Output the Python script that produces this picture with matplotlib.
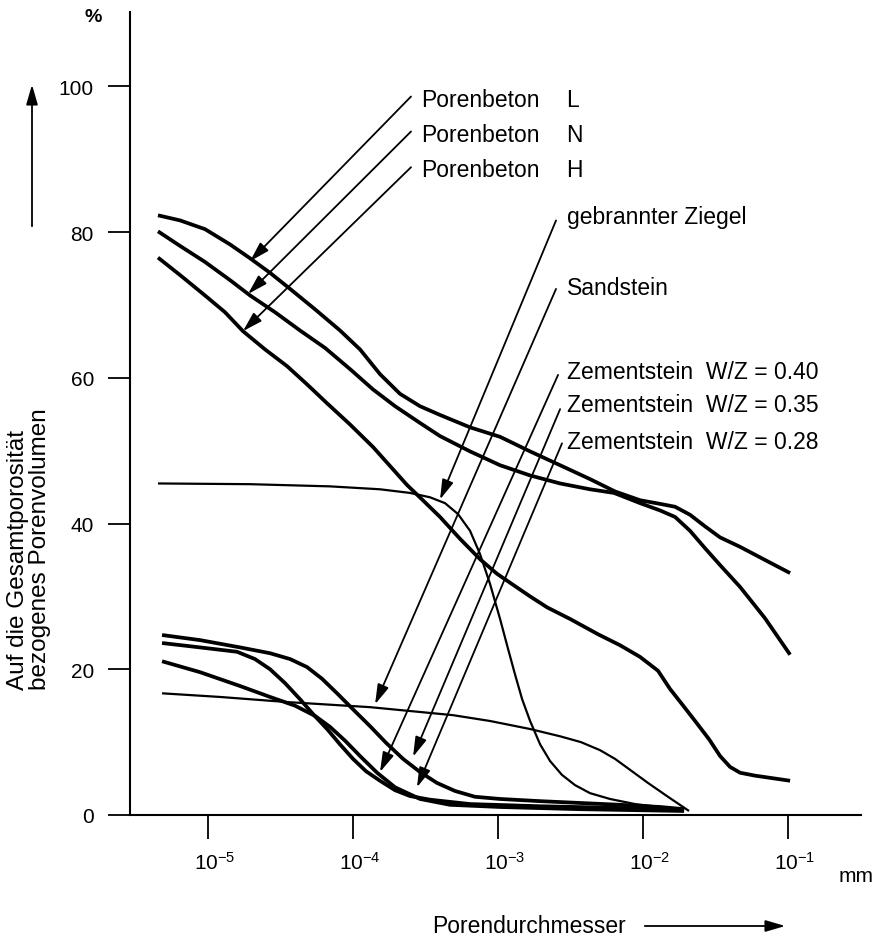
import matplotlib
matplotlib.use("Agg")
import matplotlib.pyplot as plt
import numpy as np
from matplotlib.transforms import ScaledTranslation

plt.rcParams['font.family'] = ['Liberation Sans', 'DejaVu Sans']
plt.rcParams['mathtext.fontset'] = 'custom'
plt.rcParams['mathtext.rm'] = 'Liberation Sans'

# ---- data: pore diameter as log10(mm), cumulative pore volume in % ----
pb_L_logd = [-5.345, -5.193, -5.021, -4.848, -4.710, -4.572, -4.434, -4.262, -4.090, -3.952,
             -3.814, -3.676, -3.538, -3.400, -3.193, -2.986, -2.779, -2.572, -2.366, -2.193,
             -2.021, -1.883, -1.779, -1.676, -1.572, -1.469, -1.331, -1.159, -0.986]
pb_L_pct = [82.3, 81.6, 80.4, 78.3, 76.4, 74.4, 72.2, 69.4, 66.5, 63.9,
            60.5, 57.8, 56.1, 54.9, 53.2, 51.9, 49.9, 48.0, 46.1, 44.4,
            43.2, 42.7, 42.3, 41.2, 39.6, 38.1, 36.8, 35.0, 33.2]

pb_N_logd = [-5.345, -5.193, -5.021, -4.848, -4.710, -4.538, -4.366, -4.193, -4.021, -3.862,
             -3.710, -3.538, -3.400, -3.193, -2.986, -2.779, -2.572, -2.366, -2.200, -2.021,
             -1.883, -1.779, -1.676, -1.572, -1.469, -1.331, -1.159, -0.986]
pb_N_pct = [80.1, 78.1, 75.9, 73.4, 71.3, 69.0, 66.5, 64.1, 61.2, 58.4,
            56.1, 53.8, 52.0, 49.9, 48.0, 46.6, 45.5, 44.7, 44.2, 42.8,
            41.8, 40.9, 39.0, 36.6, 34.3, 31.3, 27.0, 22.0]

pb_H_logd = [-5.345, -5.193, -5.021, -4.883, -4.759, -4.607, -4.455, -4.317, -4.179, -4.021,
             -3.862, -3.745, -3.628, -3.503, -3.400, -3.262, -3.124, -3.007, -2.897, -2.779,
             -2.662, -2.503, -2.310, -2.159, -2.021, -1.897, -1.814, -1.731, -1.641, -1.545,
             -1.469, -1.400, -1.331, -1.228, -1.124, -0.986]
pb_H_pct = [76.5, 74.1, 71.3, 69.0, 66.4, 63.9, 61.6, 59.1, 56.5, 53.6,
            50.5, 47.9, 45.3, 42.9, 40.9, 37.9, 35.1, 33.1, 31.6, 30.0,
            28.5, 26.9, 24.8, 23.3, 21.7, 19.8, 17.3, 15.2, 12.9, 10.4,
            8.1, 6.6, 5.8, 5.4, 5.1, 4.7]

ziegel_logd = [-5.345, -4.710, -4.159, -3.814, -3.607, -3.469, -3.366, -3.276, -3.193, -3.124,
               -3.055, -2.986, -2.931, -2.883, -2.834, -2.779, -2.710, -2.641, -2.559, -2.469,
               -2.366, -2.228, -2.055, -1.883, -1.717]
ziegel_pct = [45.5, 45.4, 45.1, 44.7, 44.2, 43.6, 42.8, 41.3, 39.0, 35.8,
              31.7, 26.9, 22.8, 19.3, 15.9, 12.9, 9.7, 7.4, 5.5, 4.1,
              3.0, 2.2, 1.5, 1.1, 0.8]

sand_logd = [-5.317, -4.917, -4.455, -3.883, -3.310, -3.055, -2.779, -2.572, -2.428, -2.297,
             -2.193, -2.076, -1.966, -1.828, -1.683]
sand_pct = [16.7, 16.2, 15.5, 14.8, 13.7, 12.9, 11.8, 10.8, 10.0, 8.9,
            7.7, 6.0, 4.4, 2.5, 0.55]

zs1_logd = [-5.317, -5.055, -4.779, -4.572, -4.434, -4.317, -4.214, -4.110, -4.000, -3.883,
            -3.772, -3.655, -3.538, -3.421, -3.297, -3.159, -2.986, -2.710, -2.434, -2.159,
            -1.883, -1.717]
zs1_pct = [24.7, 24.0, 23.0, 22.2, 21.4, 20.3, 18.7, 16.7, 14.5, 12.2,
           9.9, 7.7, 5.9, 4.4, 3.3, 2.5, 2.2, 1.9, 1.65, 1.4,
           1.1, 0.8]

zs2_logd = [-5.317, -5.055, -4.800, -4.676, -4.572, -4.469, -4.366, -4.269, -4.179, -4.090,
            -4.000, -3.910, -3.814, -3.710, -3.607, -3.469, -3.193, -2.710, -2.228, -1.717]
zs2_pct = [23.6, 23.0, 22.4, 21.4, 20.0, 18.1, 15.9, 13.7, 11.8, 9.7,
           7.7, 6.0, 4.7, 3.4, 2.6, 2.1, 1.5, 1.2, 1.0, 0.7]

zs3_logd = [-5.317, -5.055, -4.779, -4.572, -4.400, -4.262, -4.159, -4.055, -3.952, -3.834,
            -3.710, -3.538, -3.331, -2.986, -2.434, -1.717]
zs3_pct = [21.1, 19.6, 17.7, 16.2, 15.0, 13.6, 12.1, 10.2, 8.1, 5.8,
           3.8, 2.2, 1.4, 1.1, 0.8, 0.55]

# labels with (text position, arrow tail, arrow tip) in (log10 d, %)
labels = ["Porenbeton", "Porenbeton", "Porenbeton", "gebrannter Ziegel", "Sandstein",
          "Zementstein  W/Z = 0.40", "Zementstein  W/Z = 0.35", "Zementstein  W/Z = 0.28"]
label_suffix = ["L", "N", "H", "", "", "", "", ""]
label_logd = [-3.531, -3.531, -3.531, -2.524, -2.524, -2.524, -2.524, -2.524]
label_pct = [98.2, 93.4, 88.6, 82.2, 72.4, 60.9, 56.4, 51.3]
tail_logd = [-3.600, -3.600, -3.600, -2.600, -2.600, -2.586, -2.572, -2.559]
tail_pct = [98.6, 93.8, 88.9, 81.6, 72.2, 60.4, 55.7, 51.0]
tip_logd = [-4.710, -4.724, -4.759, -3.400, -3.848, -3.814, -3.586, -3.559]
tip_pct = [76.0, 71.5, 66.4, 43.3, 15.2, 5.9, 8.0, 3.8]

xtick_exp = [-5, -4, -3, -2, -1]
ytick_vals = [0, 20, 40, 60, 80, 100]

# ---- figure ----
W, H = 880, 937
fig = plt.figure(figsize=(W / 100, H / 100), dpi=100)
ax = fig.add_axes([130 / W, 121 / H, 731 / W, 803 / H])
ax.set_xscale('log')
ax.set_xlim(10 ** -5.538, 10 ** -0.497)
ax.set_ylim(0, 110.2)

thick = dict(color='black', lw=2.7, solid_capstyle='butt', solid_joinstyle='round')
thin = dict(color='black', lw=1.6, solid_capstyle='butt', solid_joinstyle='round')

for lg, pc in [(pb_L_logd, pb_L_pct), (pb_N_logd, pb_N_pct), (pb_H_logd, pb_H_pct),
               (zs1_logd, zs1_pct), (zs2_logd, zs2_pct), (zs3_logd, zs3_pct)]:
    ax.plot(10 ** np.array(lg), pc, **thick)
for lg, pc in [(ziegel_logd, ziegel_pct), (sand_logd, sand_pct)]:
    ax.plot(10 ** np.array(lg), pc, **thin)

for i in range(len(labels)):
    ax.annotate('', xy=(10 ** tip_logd[i], tip_pct[i]), xytext=(10 ** tail_logd[i], tail_pct[i]),
                arrowprops=dict(arrowstyle='-|>,head_length=0.75,head_width=0.22', lw=1.3,
                                color='black', shrinkA=0, shrinkB=0, mutation_scale=16))
    ax.text(10 ** label_logd[i], label_pct[i], labels[i], fontsize=16.5, ha='left', va='center')
    if label_suffix[i]:
        ax.text(10 ** -2.531, label_pct[i], label_suffix[i], fontsize=16.5, ha='left', va='center')

# axes styling
for s in ['top', 'right']:
    ax.spines[s].set_visible(False)
for s in ['left', 'bottom']:
    ax.spines[s].set_linewidth(1.5)

ax.set_xticks([10.0 ** e for e in xtick_exp])
ax.set_xticklabels([r'$\mathregular{10^{%d}}$' % e for e in xtick_exp])
ax.xaxis.set_minor_locator(matplotlib.ticker.NullLocator())
ax.set_yticks(ytick_vals)
ax.set_yticklabels([str(v) for v in ytick_vals])
ax.tick_params(axis='x', direction='out', length=17, width=1.3, labelsize=15, pad=9)
ax.tick_params(axis='y', direction='out', length=16, width=1.3, labelsize=15, pad=10)
for lab in ax.get_xticklabels():
    lab.set_transform(lab.get_transform() + ScaledTranslation(7 / 100, 0, fig.dpi_scale_trans))

# extra texts
fig.text(856 / W, 1 - 877 / H, "mm", fontsize=15, ha='center', va='center')
fig.text(93 / W, 1 - 18 / H, "%", fontsize=14, ha='center', va='center', fontweight='bold')
fig.text(18 / W, 1 - 690 / H, "Auf die Gesamtporosität", rotation=90,
         fontsize=17.5, ha='center', va='bottom')
fig.text(40 / W, 1 - 690 / H, "bezogenes Porenvolumen", rotation=90,
         fontsize=17.5, ha='center', va='bottom')
fig.text(432 / W, 1 - 927 / H, "Porendurchmesser", fontsize=16.5, ha='left', va='center')

fig.add_artist(matplotlib.patches.FancyArrowPatch(
    (642 / W, 1 - 927 / H), (788 / W, 1 - 927 / H), transform=fig.transFigure,
    arrowstyle='-|>,head_length=0.75,head_width=0.22', mutation_scale=16, lw=1.3, color='black'))
fig.add_artist(matplotlib.patches.FancyArrowPatch(
    (32 / W, 1 - 230 / H), (32 / W, 1 - 83 / H), transform=fig.transFigure,
    arrowstyle='-|>,head_length=0.75,head_width=0.22', mutation_scale=16, lw=1.3, color='black'))

fig.savefig("out.png", dpi=100)
